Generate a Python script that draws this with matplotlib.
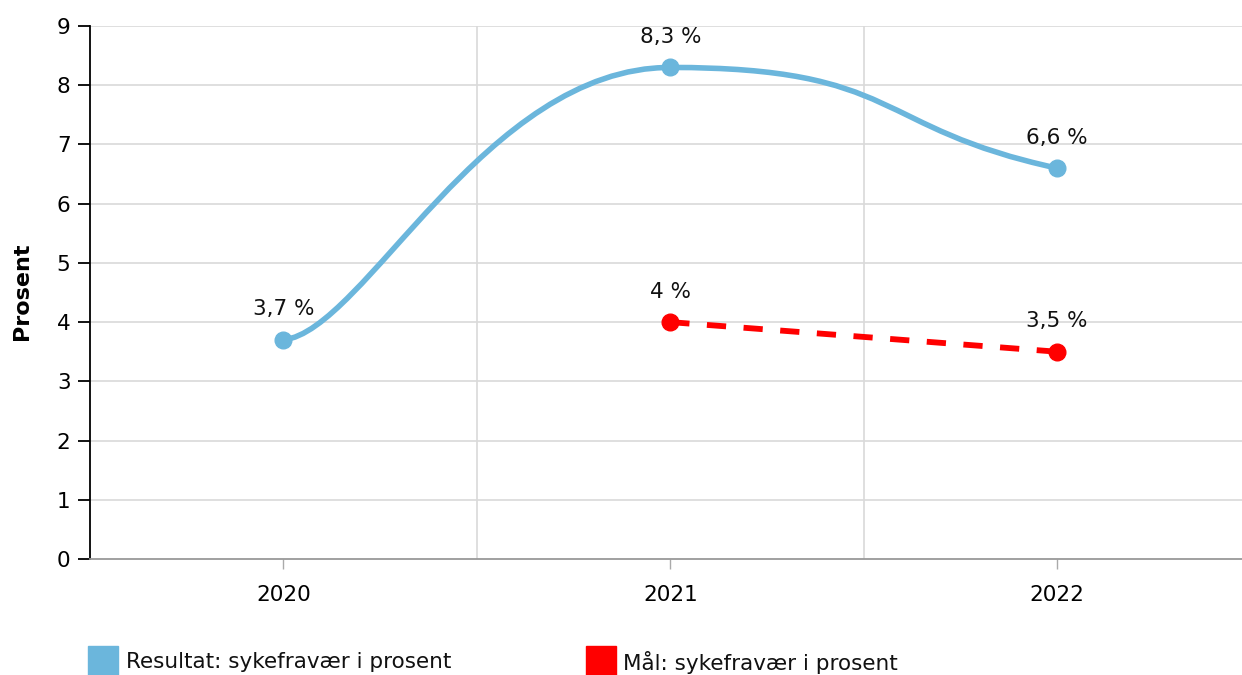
import matplotlib.pyplot as plt
from matplotlib.path import Path
from matplotlib.patches import PathPatch, Rectangle

# Data
years = ["2020", "2021", "2022"]
resultat = [3.7, 8.3, 6.6]
maal_years = ["2021", "2022"]
maal = [4.0, 3.5]
resultat_labels = ["3,7 %", "8,3 %", "6,6 %"]
maal_labels = ["4 %", "3,5 %"]

blue = "#6bb6dc"
red = "#ff0000"

plt.rcParams['font.family'] = ['DejaVu Sans']

# smoothing style of the curve: handle lengths (share of the segment width)
# and how steep the end tangents are compared with the neighbouring secant
handle_out = [0.21, 0.60]
handle_in = [0.48, 0.48]
end_slope = [0.155, 0.83]


def smooth_path(xs, ys):
    n = len(xs)
    sec = [(ys[i + 1] - ys[i]) / (xs[i + 1] - xs[i]) for i in range(n - 1)]
    slope = [0.0] * n
    slope[0] = end_slope[0] * sec[0]
    slope[-1] = end_slope[1] * sec[-1]
    for i in range(1, n - 1):
        if sec[i - 1] * sec[i] > 0:
            slope[i] = 0.5 * (sec[i - 1] + sec[i])
        else:
            slope[i] = 0.0  # flat at a peak
    verts = [(xs[0], ys[0])]
    codes = [Path.MOVETO]
    for i in range(n - 1):
        w = xs[i + 1] - xs[i]
        h1 = handle_out[i] * w
        h2 = handle_in[i] * w
        verts += [(xs[i] + h1, ys[i] + slope[i] * h1),
                  (xs[i + 1] - h2, ys[i + 1] - slope[i + 1] * h2),
                  (xs[i + 1], ys[i + 1])]
        codes += [Path.CURVE4] * 3
    return Path(verts, codes)


fig = plt.figure(figsize=(12.42, 6.75), dpi=100)
ax = fig.add_axes([90 / 1242, (675 - 559) / 675, 1 - 90 / 1242, (559 - 26) / 675])

x_res = [years.index(y) for y in years]
x_maal = [years.index(y) for y in maal_years]

ax.add_patch(PathPatch(smooth_path(x_res, resultat), facecolor='none',
                       edgecolor=blue, lw=4.0, zorder=3, capstyle='round'))
ax.plot(x_res, resultat, 'o', color=blue, ms=12, zorder=4)

ax.plot(x_maal, maal, color=red, lw=4.2, dashes=(3.3, 3.0), zorder=3)
ax.plot(x_maal, maal, 'o', color=red, ms=12, zorder=4)

for x, y, t in zip(x_res, resultat, resultat_labels):
    ax.annotate(t, (x, y), xytext=(0, 22), textcoords='offset points',
                ha='center', va='center', fontsize=15.5, color='#111111')
for x, y, t in zip(x_maal, maal, maal_labels):
    ax.annotate(t, (x, y), xytext=(0, 22), textcoords='offset points',
                ha='center', va='center', fontsize=15.5, color='#111111')

ax.set_xlim(-0.5, 2.478)
ax.set_ylim(0, 9)
ax.set_yticks(range(0, 10))
ax.set_xticks(range(len(years)))
ax.set_xticklabels(years)

# grid
for v in range(1, 10):
    ax.axhline(v, color='#d9d9d9', lw=1.2, zorder=0)
for v in [0.5, 1.5]:
    ax.axvline(v, color='#d9d9d9', lw=1.2, zorder=0)

for s in ['top', 'right']:
    ax.spines[s].set_visible(False)
ax.spines['left'].set_color('black')
ax.spines['left'].set_linewidth(1.3)
ax.spines['bottom'].set_color('#999999')
ax.spines['bottom'].set_linewidth(1.3)

ax.tick_params(axis='y', length=9, width=1.3, color='black', labelsize=15.5, pad=5)
ax.tick_params(axis='x', length=7, width=1, color='#aaaaaa', labelsize=15.5, pad=12)

ax.set_ylabel("Prosent", fontsize=16, fontweight='bold')
ax.yaxis.label.set_verticalalignment('center')
ax.yaxis.set_label_coords(22 / 1242, (675 - 291) / 675, transform=fig.transFigure)

# legend
fig.patches.append(Rectangle((88 / 1242, 0), 30 / 1242, 29 / 675,
                             transform=fig.transFigure, color=blue))
fig.text(126 / 1242, (675 - 662) / 675, "Resultat: sykefravær i prosent",
         fontsize=15.5, va='center', ha='left', color='#111111')
fig.patches.append(Rectangle((586 / 1242, 0), 30 / 1242, 29 / 675,
                             transform=fig.transFigure, color=red))
fig.text(623 / 1242, (675 - 662) / 675, "Mål: sykefravær i prosent",
         fontsize=15.5, va='center', ha='left', color='#111111')

fig.savefig("out.png", dpi=100)
